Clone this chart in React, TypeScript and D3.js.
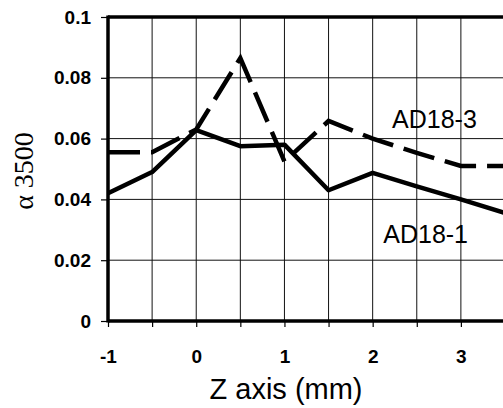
import React, { useEffect, useRef } from "react";
import { select, scaleLinear, axisLeft, axisBottom, line, range } from "d3";

// Z position (mm)
const zPos = [-1, -0.5, 0, 0.5, 1, 1.5, 2, 2.5, 3, 3.5];
// alpha 3500 per sample
const ad18_1 = [0.042, 0.049, 0.0628, 0.0575, 0.058, 0.043, 0.0487, 0.0443, 0.04, 0.0355];
const ad18_3 = [0.0555, 0.0555, 0.063, 0.0865, 0.0525, 0.0658, 0.06, 0.0553, 0.051, 0.051];

const yTicks = [0, 0.02, 0.04, 0.06, 0.08, 0.1];
const xTicks = range(-1, 3.51, 0.5);
const xLabels = [-1, 0, 1, 2, 3];

const W = 503;
const H = 408;

const App = () => {
  const ref = useRef<SVGSVGElement>(null);

  useEffect(() => {
    if (!ref.current) return;
    const svg = select(ref.current);
    svg.selectAll("*").remove();

    const x = scaleLinear().domain([-1, 3.5]).range([108, 505]);
    const y = scaleLinear().domain([0, 0.1]).range([321, 17]);

    // grid
    const grid = svg.append("g").attr("stroke", "#111").attr("stroke-width", 1);
    grid
      .selectAll(".vg")
      .data(xTicks.filter((d) => d > -1))
      .enter()
      .append("line")
      .attr("x1", (d) => x(d))
      .attr("x2", (d) => x(d))
      .attr("y1", y(0))
      .attr("y2", y(0.1));
    grid
      .selectAll(".hg")
      .data(yTicks.filter((d) => d > 0 && d < 0.1))
      .enter()
      .append("line")
      .attr("x1", x(-1))
      .attr("x2", x(3.5))
      .attr("y1", (d) => y(d))
      .attr("y2", (d) => y(d));

    // axes
    const fmt = (d: any) => (d === 0 ? "0" : String(d));
    const ya = svg
      .append("g")
      .attr("transform", `translate(${x(-1)},0)`)
      .call(axisLeft(y).tickValues(yTicks).tickFormat(fmt).tickSize(7).tickPadding(10));
    ya.select(".domain").remove();
    ya.selectAll(".tick line").attr("stroke", "#000").attr("stroke-width", 1.2);
    ya.selectAll("text")
      .attr("fill", "#000")
      .style("font-family", "Arial, 'Liberation Sans', sans-serif")
      .style("font-size", "19px")
      .style("font-weight", "bold");

    const xa = svg
      .append("g")
      .attr("transform", `translate(0,${y(0)})`)
      .call(
        axisBottom(x)
          .tickValues(xTicks)
          .tickFormat((d: any) => (xLabels.includes(d) ? String(d) : ""))
          .tickSize(6)
          .tickPadding(23)
      );
    xa.select(".domain").remove();
    xa.selectAll(".tick line").attr("stroke", "#000").attr("stroke-width", 1.2);
    xa.selectAll("text")
      .attr("fill", "#000")
      .style("font-family", "Arial, 'Liberation Sans', sans-serif")
      .style("font-size", "19px")
      .style("font-weight", "bold");

    // frame
    const frame = svg.append("g").attr("stroke", "#000").attr("stroke-width", 3.5);
    frame.append("line").attr("x1", x(-1)).attr("x2", x(3.5)).attr("y1", y(0.1)).attr("y2", y(0.1));
    frame.append("line").attr("x1", x(-1)).attr("x2", x(3.5)).attr("y1", y(0)).attr("y2", y(0));
    frame.append("line").attr("x1", x(-1)).attr("x2", x(-1)).attr("y1", y(0.1) - 1.5).attr("y2", y(0) + 1.5);

    // series
    const gen = line<number>()
      .x((_, i) => x(zPos[i]))
      .y((d) => y(d));

    svg
      .append("path")
      .datum(ad18_1)
      .attr("fill", "none")
      .attr("stroke", "#000")
      .attr("stroke-width", 4.5)
      .attr("stroke-linejoin", "round")
      .attr("d", gen);

    svg
      .append("path")
      .datum(ad18_3)
      .attr("fill", "none")
      .attr("stroke", "#000")
      .attr("stroke-width", 4.5)
      .attr("stroke-dasharray", "32 11")
      .attr("d", gen);

    // series labels
    const lab = svg
      .append("g")
      .style("font-family", "Arial, 'Liberation Sans', sans-serif")
      .style("font-size", "25px")
      .attr("fill", "#000");
    lab.append("text").attr("x", x(2.22)).attr("y", y(0.0635)).text("AD18-3");
    lab.append("text").attr("x", x(2.12)).attr("y", y(0.0257)).text("AD18-1");

    // axis titles
    svg
      .append("text")
      .attr("x", 286)
      .attr("y", 399)
      .attr("text-anchor", "middle")
      .style("font-family", "Arial, 'Liberation Sans', sans-serif")
      .style("font-size", "29px")
      .attr("fill", "#000")
      .text("Z axis (mm)");

    svg
      .append("text")
      .attr("transform", "translate(33,171) rotate(-90)")
      .attr("text-anchor", "middle")
      .style("font-family", "'Liberation Serif', 'Times New Roman', serif")
      .style("font-size", "28px")
      .attr("fill", "#000")
      .text("α 3500");
  }, []);

  return (
    <svg
      ref={ref}
      width={W}
      height={H}
      style={{ position: "absolute", left: 0, top: 0, background: "#fff" }}
    ></svg>
  );
};

export default App;
